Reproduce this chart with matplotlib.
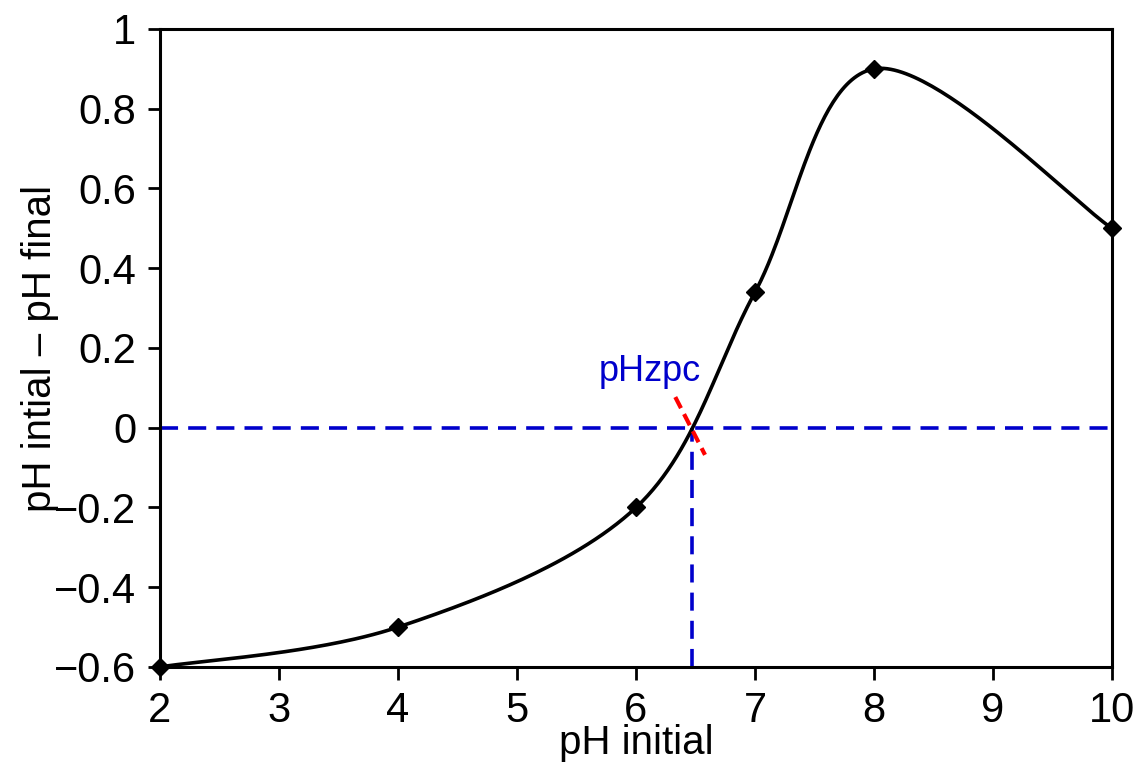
import numpy as np
import matplotlib.pyplot as plt

# measured points
ph_initial = [2, 4, 6, 7, 8, 10]
ph_diff = [-0.6, -0.5, -0.2, 0.34, 0.9, 0.5]

pzc = 6.47
red_x = [6.33, 6.58]
red_y = [0.077, -0.068]


def smooth(xs, ys, n=60):
    # excel style smoothed line (cardinal bezier through the points)
    xs = np.asarray(xs, float)
    ys = np.asarray(ys, float)
    px = np.concatenate([[xs[0]], xs, [xs[-1]]])
    py = np.concatenate([[ys[0]], ys, [ys[-1]]])
    out_x, out_y = [], []
    t = np.linspace(0, 1, n)
    for i in range(1, len(px) - 2):
        p0 = np.array([px[i], py[i]])
        p3 = np.array([px[i + 1], py[i + 1]])
        c1 = p0 + (p3 - np.array([px[i - 1], py[i - 1]])) / 6
        c2 = p3 - (np.array([px[i + 2], py[i + 2]]) - p0) / 6
        b = ((1 - t) ** 3)[:, None] * p0 + (3 * (1 - t) ** 2 * t)[:, None] * c1 \
            + (3 * (1 - t) * t ** 2)[:, None] * c2 + (t ** 3)[:, None] * p3
        out_x.extend(b[:, 0])
        out_y.extend(b[:, 1])
    return out_x, out_y


plt.rcParams['font.family'] = ['Liberation Sans', 'DejaVu Sans']

fig = plt.figure(figsize=(11.45, 7.73), dpi=100)
ax = fig.add_axes([160 / 1145, 1 - 667 / 773, 952 / 1145, 638 / 773])

blue = '#0000CC'
ax.axhline(0, color=blue, lw=2.6, ls=(0, (5, 2.8)), zorder=2)
ax.plot([pzc, pzc], [-0.6, 0], color=blue, lw=2.6, ls=(0, (5, 2.8)), zorder=2)

sx, sy = smooth(ph_initial, ph_diff)
ax.plot(sx, sy, color='black', lw=2.6, zorder=3, clip_on=False)
ax.plot(ph_initial, ph_diff, 'D', color='black', ms=9.5, zorder=4, clip_on=False)

ax.plot(red_x, red_y, color='red', lw=3, ls=(0, (3, 1.6)), zorder=5)
ax.text(6.12, 0.14, 'pHzpc', color=blue, fontsize=26, ha='center', va='center')

ax.set_xlim(2, 10)
ax.set_ylim(-0.6, 1)
ax.set_xticks(range(2, 11))
ax.set_yticks(np.arange(-0.6, 1.01, 0.2))
ax.set_yticklabels(['\u22120.6', '\u22120.4', '\u22120.2', '0', '0.2', '0.4', '0.6', '0.8', '1'])
ax.tick_params(direction='out', length=9, width=2, labelsize=30, pad=8)
for s in ax.spines.values():
    s.set_linewidth(2.2)

ax.set_xlabel('pH initial', fontsize=29)
ax.xaxis.set_label_coords(0.5, -0.089)
ax.set_ylabel('pH intial \u2013 pH final', fontsize=29)
ax.yaxis.set_label_coords(-0.106, 0.5)

fig.savefig('out.png', dpi=100)
